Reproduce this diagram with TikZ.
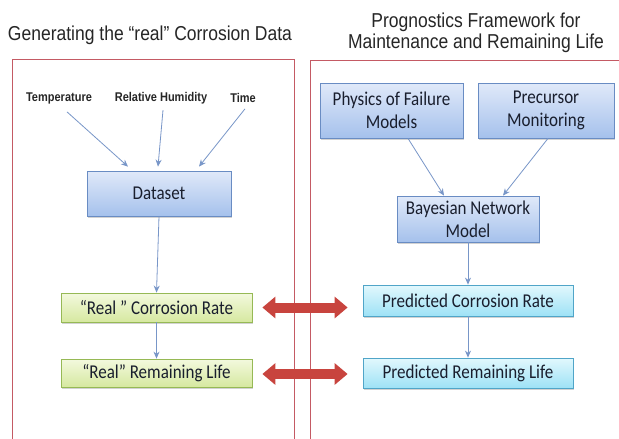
\documentclass[tikz,border=0pt]{standalone}
\usepackage{fontspec}
\usepackage{graphicx}
\setmainfont{Liberation Sans}
\newfontfamily\boxfont{Carlito}
\usetikzlibrary{arrows.meta,shadows}
\newcommand\vs[1]{\scalebox{1}[1.15]{#1}}
\definecolor{framered}{RGB}{196,90,100}
\definecolor{bluetop}{RGB}{224,233,249}
\definecolor{bluebot}{RGB}{165,193,236}
\definecolor{blueedge}{RGB}{105,140,195}
\definecolor{cyantop}{RGB}{226,248,253}
\definecolor{cyanbot}{RGB}{158,226,246}
\definecolor{cyanedge}{RGB}{80,165,200}
\definecolor{greentop}{RGB}{243,249,222}
\definecolor{greenbot}{RGB}{214,232,160}
\definecolor{greenedge}{RGB}{150,185,85}
\definecolor{conn}{RGB}{120,150,200}
\definecolor{arrred}{RGB}{200,68,62}
\definecolor{txt}{RGB}{25,30,45}
\tikzset{
  basebox/.style={rectangle, inner sep=0pt, line width=0.8pt, text=txt,
    font=\boxfont\fontsize{17}{23}\selectfont, align=center,
    drop shadow={shadow xshift=1.2pt, shadow yshift=-1.5pt, opacity=0.35, fill=gray}},
  bluebox/.style={basebox, draw=blueedge, top color=bluetop, bottom color=bluebot},
  cyanbox/.style={basebox, draw=cyanedge, top color=cyantop, bottom color=cyanbot},
  greenbox/.style={basebox, draw=greenedge, top color=greentop, bottom color=greenbot},
  title/.style={font=\fontsize{17.5}{21}\selectfont, text=black!85, align=center, inner sep=0pt},
  factor/.style={font=\bfseries\fontsize{11}{13}\selectfont, text=black!85, inner sep=0pt},
  conn/.style={draw=conn, line width=0.8pt, -{Stealth[length=7pt,width=6pt]}},
  frame/.style={draw=framered, line width=0.9pt},
  bigarrow/.style={draw=arrred, line width=10pt,
    {Triangle[length=13pt,width=21pt]}-{Triangle[length=13pt,width=21pt]}}
}
\begin{document}
\begin{tikzpicture}[x=1pt,y=-1pt]
\useasboundingbox (0,0) rectangle (619,439);
\clip (0,0) rectangle (619,439);
\fill[white] (0,0) rectangle (619,439);

% frames
\draw[frame] (12.5,450) -- (12.5,59) -- (294,59) -- (294,450);
\draw[frame] (310,450) -- (310,60) -- (640,60);

% titles
\node[title] (t1) at (150,35) {\vs{Generating the “real” Corrosion Data}};
\node[title] (t2) at (476,33) {\vs{Prognostics Framework for}\\\vs{Maintenance and Remaining Life}};

% left side
\node[factor] (temp) at (59,98) {\vs{Temperature}};
\node[factor] (rh) at (161,98) {\vs{Relative Humidity}};
\node[factor] (time) at (243,98) {\vs{Time}};

\node[bluebox, minimum width=144pt, minimum height=45pt] (data) at (159,193.5) {\vs{Dataset}};
\node[greenbox, minimum width=191pt, minimum height=29pt] (g1) at (156.5,307.5) {\vs{“Real ” Corrosion Rate}};
\node[greenbox, minimum width=191pt, minimum height=28pt] (g2) at (156.5,373) {\vs{“Real” Remaining Life}};

% right side
\node[bluebox, minimum width=143pt, minimum height=55pt] (phys) at (391.5,110.5) {\vs{Physics of Failure}\\\vs{Models}};
\node[bluebox, minimum width=136pt, minimum height=55pt] (prec) at (546,110.5) {\vs{Precursor}\\\vs{Monitoring}};
\node[bluebox, minimum width=142pt, minimum height=46pt] (bayes) at (468,219) {\vs{Bayesian Network}\\\vs{Model}};
\node[cyanbox, minimum width=210pt, minimum height=31pt] (p1) at (468,300.5) {\vs{Predicted Corrosion Rate}};
\node[cyanbox, minimum width=210pt, minimum height=30pt] (p2) at (468,373) {\vs{Predicted Remaining Life}};

% connectors left
\draw[conn] ([xshift=8pt,yshift=-8pt]temp.south) -- ([xshift=-31pt,yshift=4pt]data.north);
\draw[conn] ([xshift=2pt,yshift=-6pt]rh.south) -- ([xshift=-1pt,yshift=4pt]data.north);
\draw[conn] ([xshift=2pt,yshift=-6pt]time.south) -- ([xshift=40pt,yshift=4pt]data.north);
\draw[conn] (data.south) -- (g1.north);
\draw[conn] (g1.south) -- (g2.north);

% connectors right
\draw[conn] ([xshift=16.5pt]phys.south) -- ([xshift=-24pt]bayes.north);
\draw[conn] ([xshift=2pt]prec.south) -- ([xshift=35pt]bayes.north);
\draw[conn] (bayes.south) -- (p1.north);
\draw[conn] (p1.south) -- (p2.north);

% red double arrows
\coordinate (a1l) at ([xshift=10pt]g1.east);
\coordinate (a1r) at ([xshift=-15pt]g1.east -| p1.west);
\coordinate (a2l) at ([xshift=10pt,yshift=-1pt]g2.east);
\coordinate (a2r) at ([xshift=-15pt,yshift=-1pt]g2.east -| p2.west);
\draw[bigarrow] (a1l) -- (a1r);
\draw[bigarrow] (a2l) -- (a2r);
\end{tikzpicture}
\end{document}
